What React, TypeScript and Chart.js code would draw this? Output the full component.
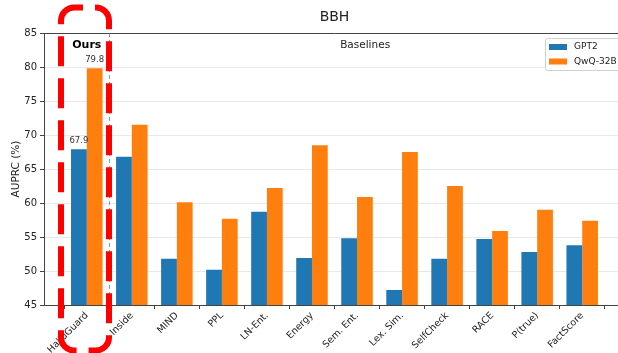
import React, { useEffect, useRef } from "react";
import { Chart, registerables } from "chart.js";

Chart.register(...registerables);

const categories = ["HalluGuard", "Inside", "MIND", "PPL", "LN-Ent.", "Energy", "Sem. Ent.", "Lex. Sim.", "SelfCheck", "RACE", "P(true)", "FactScore"];
const gpt2 = [67.9, 66.8, 51.8, 50.2, 58.7, 51.9, 54.8, 47.2, 51.8, 54.7, 52.8, 53.8];
const qwq = [79.8, 71.5, 60.1, 57.7, 62.2, 68.5, 60.9, 67.5, 62.5, 55.9, 59.0, 57.4];
const yTicks = [45, 50, 55, 60, 65, 70, 75, 80, 85];
const seriesNames = ["GPT2", "QwQ-32B"];
const annotatedValues = ["67.9", "79.8"];

const BLUE = "#1f77b4";
const ORANGE = "#ff7f0e";
const FONT = "'DejaVu Sans', sans-serif";

export default function App() {
  const ref = useRef<HTMLCanvasElement | null>(null);

  useEffect(() => {
    if (!ref.current) return;

    const overlay = {
      id: "overlay",
      afterDatasetsDraw(chart: any) {
        const ctx = chart.ctx;
        const { left, right, top, bottom } = chart.chartArea;
        const xs = chart.scales.x;
        ctx.save();
        // top spine
        ctx.strokeStyle = "#444";
        ctx.lineWidth = 1;
        ctx.beginPath();
        ctx.moveTo(left, top + 0.5);
        ctx.lineTo(right, top + 0.5);
        ctx.stroke();

        // dashed separator
        const sx = Math.round(xs.getPixelForValue(0.5)) + 0.5;
        ctx.strokeStyle = "rgba(70,120,160,0.7)";
        ctx.setLineDash([4, 3]);
        ctx.beginPath();
        ctx.moveTo(sx, top);
        ctx.lineTo(sx, bottom);
        ctx.stroke();
        ctx.setLineDash([]);

        // title
        ctx.fillStyle = "#222";
        ctx.textAlign = "center";
        ctx.textBaseline = "middle";
        ctx.font = `14px ${FONT}`;
        ctx.fillText("BBH", (left + right) / 2, 17);

        // section labels
        ctx.font = `bold 11px ${FONT}`;
        ctx.fillStyle = "#000";
        ctx.fillText("Ours", xs.getPixelForValue(0), 45);
        ctx.font = `10.5px ${FONT}`;
        ctx.fillStyle = "#222";
        ctx.fillText("Baselines", xs.getPixelForValue(6.18), 45);

        // y label
        ctx.save();
        ctx.translate(16, (top + bottom) / 2);
        ctx.rotate(-Math.PI / 2);
        ctx.font = `10.5px ${FONT}`;
        ctx.fillText("AUPRC (%)", 0, 0);
        ctx.restore();

        // value labels
        ctx.font = `8.5px ${FONT}`;
        ctx.fillStyle = "#333";
        ctx.textBaseline = "bottom";
        [0, 1].forEach((d) => {
          const meta = chart.getDatasetMeta(d);
          const bar = meta.data[0];
          ctx.fillText(annotatedValues[d], bar.x, bar.y - 4);
        });

        // legend
        const lx = 545, ly = 38;
        ctx.fillStyle = "rgba(255,255,255,0.85)";
        ctx.strokeStyle = "#d0d0d0";
        ctx.lineWidth = 1;
        ctx.beginPath();
        ctx.roundRect(lx + 0.5, ly + 0.5, 90, 32, 2);
        ctx.fill();
        ctx.stroke();
        ctx.font = `9px ${FONT}`;
        ctx.textAlign = "left";
        ctx.textBaseline = "middle";
        [BLUE, ORANGE].forEach((c, i) => {
          const yy = ly + 9 + i * 14.5;
          ctx.fillStyle = c;
          ctx.fillRect(lx + 4, yy - 3, 18, 6);
          ctx.fillStyle = "#222";
          ctx.fillText(seriesNames[i], lx + 29, yy);
        });

        // red dashed highlight
        ctx.strokeStyle = "#ff0000";
        ctx.lineWidth = 6;
        ctx.setLineDash([30, 12]);
        ctx.lineDashOffset = 21;
        ctx.beginPath();
        ctx.roundRect(61, 7.5, 48, 343, 13);
        ctx.stroke();
        ctx.restore();
      },
    };

    const chart = new Chart(ref.current, {
      type: "bar",
      data: {
        datasets: [
          { label: seriesNames[0], data: gpt2.map((v, i) => ({ x: i, y: v })), backgroundColor: BLUE, categoryPercentage: 0.7, barPercentage: 1.0 },
          { label: seriesNames[1], data: qwq.map((v, i) => ({ x: i, y: v })), backgroundColor: ORANGE, categoryPercentage: 0.7, barPercentage: 1.0 },
        ],
      },
      options: {
        responsive: false,
        animation: false,
        layout: { padding: { top: 33, left: 0, right: 15, bottom: 0 } },
        plugins: { legend: { display: false }, title: { display: false }, tooltip: { enabled: false } },
        scales: {
          x: {
            type: "linear",
            min: -0.95,
            max: 11.95,
            offset: false,
            afterBuildTicks: (scale: any) => {
              scale.ticks = categories.map((_, i) => ({ value: i }));
            },
            afterFit: (scale: any) => {
              scale.height = 48;
              scale.paddingLeft = 0;
              scale.paddingRight = 0;
            },
            ticks: {
              autoSkip: false,
              maxRotation: 45,
              minRotation: 45,
              padding: 1,
              color: "#222",
              font: { family: FONT, size: 9.5 },
              callback: (v: any) => categories[Number(v)] ?? "",
            },
            grid: { drawOnChartArea: false, drawTicks: true, tickLength: 4, tickColor: "#444" },
            border: { display: true, color: "#444", width: 1 },
          },
          y: {
            min: 45,
            max: 85,
            afterBuildTicks: (scale: any) => {
              scale.ticks = yTicks.map((v) => ({ value: v }));
            },
            afterFit: (scale: any) => {
              scale.width = 44;
            },
            ticks: { padding: 3, color: "#222", font: { family: FONT, size: 10 } },
            grid: { color: "#e8e8e8", tickLength: 4, tickColor: "#444" },
            border: { display: true, color: "#444", width: 1 },
          },
        },
      },
      plugins: [overlay],
    } as any);
    return () => chart.destroy();
  }, []);

  return (
    <div style={{ position: "absolute", left: 0, top: 0, width: 618, height: 353, overflow: "hidden", background: "#fff" }}>
      <canvas ref={ref} width={640} height={353} style={{ width: 640, height: 353, display: "block" }} />
    </div>
  );
}
